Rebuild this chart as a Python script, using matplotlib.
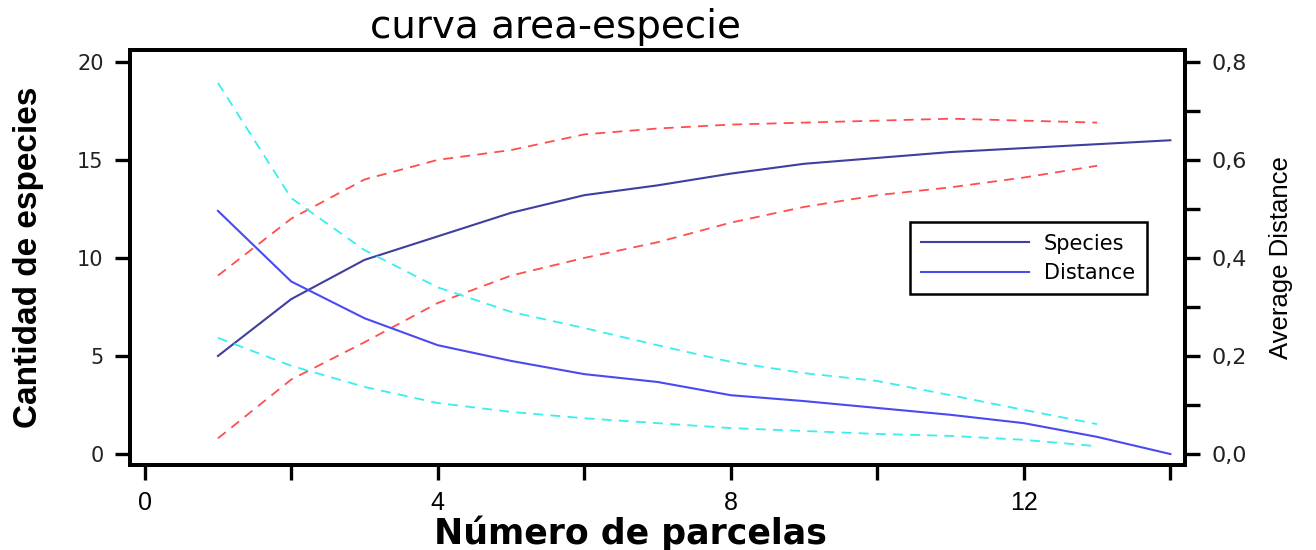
import matplotlib.pyplot as plt
from matplotlib.lines import Line2D
from matplotlib.ticker import MultipleLocator, FixedLocator, FuncFormatter

SANS = ["Liberation Sans", "DejaVu Sans"]
WIDE = ["DejaVu Sans"]

parcelas = list(range(1, 15))
species = [5.0, 7.9, 9.9, 11.1, 12.3, 13.2, 13.7, 14.3, 14.8, 15.1, 15.4, 15.6, 15.8, 16.0]
species_hi = [9.1, 12.0, 14.0, 15.0, 15.5, 16.3, 16.6, 16.8, 16.9, 17.0, 17.1, 17.0, 16.9]
species_lo = [0.8, 3.8, 5.7, 7.7, 9.1, 10.0, 10.8, 11.8, 12.6, 13.2, 13.6, 14.1, 14.7]

distance = [0.496, 0.352, 0.277, 0.222, 0.190, 0.163, 0.147, 0.120, 0.108,
            0.094, 0.080, 0.063, 0.035, 0.0]
distance_hi = [0.757, 0.522, 0.416, 0.340, 0.290, 0.257, 0.222, 0.188, 0.165,
               0.149, 0.120, 0.090, 0.061]
distance_lo = [0.237, 0.180, 0.137, 0.104, 0.086, 0.073, 0.063, 0.053, 0.047,
               0.041, 0.037, 0.029, 0.016]

C_SPEC = "#3f3fa0"
C_DIST = "#4a4af2"
C_RED = "#ff4d4d"
C_CYAN = "#38eef0"
DASH = (0, (5.5, 4))

fig = plt.figure(figsize=(13.16, 5.5), dpi=100)
ax = fig.add_axes([0.0988, 0.1545, 0.8017, 0.7545])
ax2 = ax.twinx()

ax.plot(parcelas, species, color=C_SPEC, lw=1.5)
ax.plot(parcelas[:13], species_hi, color=C_RED, lw=1.3, ls=DASH)
ax.plot(parcelas[:13], species_lo, color=C_RED, lw=1.3, ls=DASH)

ax2.plot(parcelas, distance, color=C_DIST, lw=1.5)
ax2.plot(parcelas[:13], distance_hi, color=C_CYAN, lw=1.3, ls=DASH)
ax2.plot(parcelas[:13], distance_lo, color=C_CYAN, lw=1.3, ls=DASH)

ax.set_xlim(-0.2, 14.2)
ax.set_ylim(-0.56, 20.6)
ax2.set_ylim(-0.56 / 25, 20.6 / 25)

ax.xaxis.set_major_locator(FixedLocator(range(0, 15, 2)))
ax.xaxis.set_major_formatter(FuncFormatter(lambda v, p: str(int(v)) if v % 4 == 0 else ""))
ax.yaxis.set_major_locator(MultipleLocator(5))
ax2.yaxis.set_major_locator(MultipleLocator(0.1))
ax2.yaxis.set_major_formatter(
    FuncFormatter(lambda v, p: ("%.1f" % v).replace(".", ",") if round(v * 10) % 2 == 0 else ""))

for a in (ax, ax2):
    for s in a.spines.values():
        s.set_linewidth(2.8)
    a.tick_params(width=2.4, length=11)

ax.tick_params(axis="x", labelsize=18, pad=8, labelfontfamily="Liberation Sans")
ax.tick_params(axis="y", labelsize=15, labelcolor="#222222", pad=8, labelfontfamily="DejaVu Sans")
ax2.tick_params(axis="y", labelsize=16, labelcolor="#222222", pad=8, labelfontfamily="DejaVu Sans")

ax.set_xlabel("Número de parcelas", fontsize=25, fontweight="bold", family=WIDE,
              labelpad=0, x=0.474)
ax.set_ylabel("Cantidad de especies", fontsize=24, fontweight="bold", family=SANS, labelpad=24)
ax2.set_ylabel("Average Distance", fontsize=18.5, family=SANS, labelpad=16)
ax.set_title("curva area-especie", fontsize=28, family=WIDE, pad=9, x=0.403)

handles = [Line2D([], [], color=C_SPEC, lw=1.5), Line2D([], [], color=C_DIST, lw=1.5)]
leg = ax.legend(handles, ["Species", "Distance"], loc="upper left",
                bbox_to_anchor=(0.739, 0.5855), fancybox=False, edgecolor="black",
                framealpha=1, handlelength=5.2, handletextpad=0.7, borderpad=0.55,
                labelspacing=0.45, borderaxespad=0, prop={"family": WIDE, "size": 15})
leg.get_frame().set_linewidth(1.8)

fig.savefig("out.png", dpi=100)
